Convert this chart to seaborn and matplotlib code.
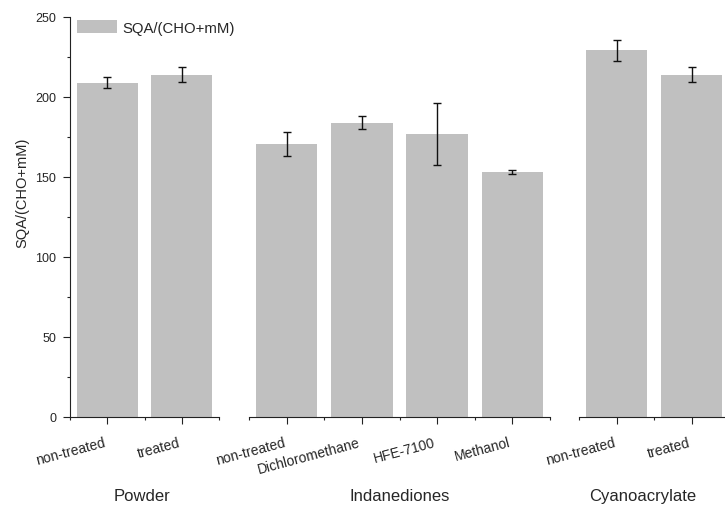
import numpy as np
import pandas as pd
import matplotlib
matplotlib.use("Agg")
import matplotlib.pyplot as plt
from matplotlib.patches import Patch
import seaborn as sns

sns.set_theme(style="white")
plt.rcParams["font.family"] = ["Liberation Sans", "DejaVu Sans"]

# Groups of treatments and their measured SQA/(CHO+mM) values with errors
powder_labels = ["non-treated", "treated"]
powder_values = [209, 214]
powder_errors = [3.2, 4.9]

indane_labels = ["non-treated", "Dichloromethane", "HFE-7100", "Methanol"]
indane_values = [170.5, 184, 176.8, 153.3]
indane_errors = [7.4, 4.0, 19.5, 1.2]

cyano_labels = ["non-treated", "treated"]
cyano_values = [229.3, 213.8]
cyano_errors = [6.6, 4.7]

group_names = ["Powder", "Indanediones", "Cyanoacrylate"]
series_name = "SQA/(CHO+mM)"
y_ticks = [0, 50, 100, 150, 200, 250]

BAR_COLOR = "#c0c0c0"
AXIS_COLOR = "#222222"

W, H = 725, 506
fig = plt.figure(figsize=(W / 100, H / 100), dpi=100)

bottom_px, top_px = 418, 18
panels_px = [(70, 219), (249, 550), (579, 729)]
label_x = [0.48, 0.5, 0.427]

groups = [
    (powder_labels, powder_values, powder_errors),
    (indane_labels, indane_values, indane_errors),
    (cyano_labels, cyano_values, cyano_errors),
]

axes = []
for i, ((x0, x1), (labels, values, errors)) in enumerate(zip(panels_px, groups)):
    ax = fig.add_axes([x0 / W, (H - bottom_px) / H, (x1 - x0) / W,
                       (bottom_px - top_px) / H])
    df = pd.DataFrame({"treatment": labels, "value": values})
    sns.barplot(data=df, x="treatment", y="value", order=labels, ax=ax,
                color=BAR_COLOR, saturation=1, width=0.82, errorbar=None,
                linewidth=0)
    ax.errorbar(np.arange(len(labels)), values, yerr=errors, fmt="none",
                ecolor="#111111", elinewidth=1.0, capsize=3, capthick=1.0)
    n = len(labels)
    ax.set_xlim(-0.5, n - 0.5)
    ax.set_ylim(0, 250)
    ax.set_xticks(np.arange(n))
    ax.set_xticks(np.arange(-0.5, n), minor=True)
    ax.set_xticklabels(labels, rotation=15, ha="right", fontsize=10)
    ax.tick_params(axis="x", which="major", direction="out", length=5,
                   width=0.8, color=AXIS_COLOR, pad=8, bottom=True)
    ax.tick_params(axis="x", which="minor", direction="out", length=2.5,
                   width=0.8, color=AXIS_COLOR, bottom=True)
    ax.set_xlabel(group_names[i], fontsize=12)
    ax.xaxis.set_label_coords(label_x[i], -0.178)
    for side in ("top", "right"):
        ax.spines[side].set_visible(False)
    ax.spines["bottom"].set_color(AXIS_COLOR)
    ax.spines["bottom"].set_linewidth(0.8)
    if i == 0:
        ax.spines["left"].set_color(AXIS_COLOR)
        ax.spines["left"].set_linewidth(0.8)
        ax.set_yticks(y_ticks)
        ax.set_yticks(np.arange(25, 250, 50), minor=True)
        ax.tick_params(axis="y", which="major", direction="out", length=5,
                       width=0.8, color=AXIS_COLOR, labelsize=9, pad=5, left=True)
        ax.tick_params(axis="y", which="minor", direction="out", length=2.5,
                       width=0.8, color=AXIS_COLOR, left=True)
        ax.set_ylabel(series_name, fontsize=10.5)
        ax.yaxis.set_label_coords(-0.27, 0.5625)
    else:
        ax.spines["left"].set_visible(False)
        ax.set_yticks([])
        ax.set_ylabel("")
    ax.grid(False)
    axes.append(ax)

handle = Patch(facecolor=BAR_COLOR, edgecolor="none", label=series_name)
fig.legend(handles=[handle], loc="upper left",
           bbox_to_anchor=(77 / W, 1 - 21 / H), frameon=False, fontsize=10.7,
           handlelength=2.7, handleheight=1.0, handletextpad=0.35,
           borderpad=0, borderaxespad=0)

fig.savefig("out.png", dpi=100)
